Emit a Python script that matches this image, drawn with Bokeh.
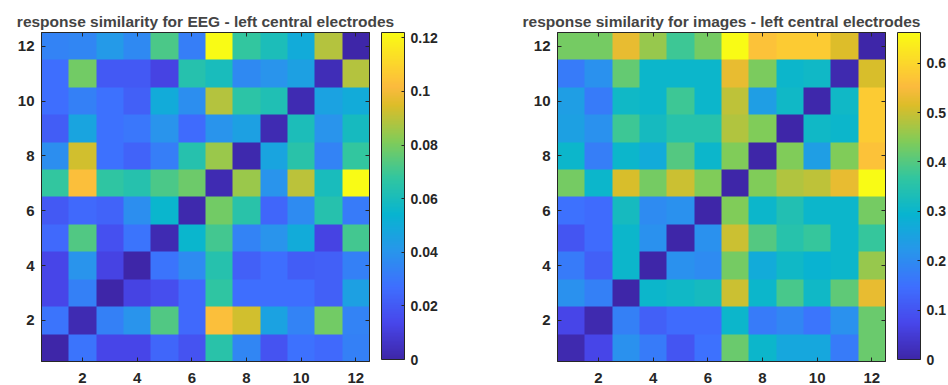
import numpy as np
from bokeh.plotting import figure
from bokeh.layouts import row
from bokeh.models import LinearColorMapper, FixedTicker, Range1d, ColorBar, LinearAxis
from bokeh.embed import file_html
from bokeh.resources import INLINE

# ---- data (rows listed from y=12 at the top down to y=1) ----
electrodes = list(range(1, 13))
eeg_title = "response similarity for EEG - left central electrodes"
img_title = "response similarity for images - left central electrodes"

eeg_rows = [
    [0.034, 0.035, 0.042, 0.036, 0.072, 0.032, 0.122, 0.068, 0.061, 0.050, 0.089, 0.000],
    [0.027, 0.079, 0.020, 0.020, 0.012, 0.064, 0.060, 0.036, 0.040, 0.045, 0.003, 0.089],
    [0.027, 0.033, 0.028, 0.022, 0.050, 0.038, 0.089, 0.066, 0.062, 0.002, 0.046, 0.050],
    [0.021, 0.047, 0.028, 0.030, 0.040, 0.026, 0.040, 0.045, 0.002, 0.061, 0.040, 0.059],
    [0.038, 0.093, 0.028, 0.023, 0.032, 0.064, 0.085, 0.001, 0.047, 0.065, 0.034, 0.068],
    [0.068, 0.103, 0.067, 0.064, 0.072, 0.078, 0.002, 0.085, 0.040, 0.090, 0.060, 0.122],
    [0.020, 0.025, 0.023, 0.038, 0.055, 0.001, 0.079, 0.065, 0.024, 0.037, 0.064, 0.031],
    [0.025, 0.073, 0.017, 0.029, 0.002, 0.055, 0.071, 0.034, 0.040, 0.050, 0.012, 0.071],
    [0.013, 0.040, 0.012, 0.000, 0.029, 0.037, 0.064, 0.022, 0.027, 0.021, 0.022, 0.033],
    [0.013, 0.033, 0.000, 0.012, 0.016, 0.025, 0.067, 0.027, 0.027, 0.027, 0.022, 0.045],
    [0.029, 0.002, 0.033, 0.040, 0.073, 0.025, 0.103, 0.093, 0.046, 0.034, 0.079, 0.034],
    [0.000, 0.029, 0.013, 0.013, 0.024, 0.018, 0.065, 0.035, 0.018, 0.028, 0.025, 0.033],
]

img_rows = [
    [0.43, 0.43, 0.53, 0.46, 0.38, 0.43, 0.66, 0.565, 0.58, 0.58, 0.515, 0.00],
    [0.17, 0.21, 0.415, 0.30, 0.30, 0.30, 0.53, 0.435, 0.30, 0.31, 0.01, 0.51],
    [0.24, 0.17, 0.31, 0.30, 0.38, 0.30, 0.49, 0.24, 0.31, 0.005, 0.31, 0.58],
    [0.245, 0.21, 0.38, 0.32, 0.35, 0.35, 0.48, 0.44, 0.00, 0.31, 0.30, 0.58],
    [0.30, 0.175, 0.30, 0.27, 0.40, 0.30, 0.44, 0.00, 0.44, 0.24, 0.44, 0.565],
    [0.43, 0.30, 0.51, 0.43, 0.50, 0.44, 0.00, 0.44, 0.48, 0.49, 0.53, 0.66],
    [0.15, 0.14, 0.32, 0.20, 0.21, 0.00, 0.44, 0.30, 0.34, 0.30, 0.30, 0.43],
    [0.10, 0.14, 0.30, 0.21, 0.00, 0.21, 0.50, 0.40, 0.35, 0.37, 0.30, 0.37],
    [0.17, 0.12, 0.30, 0.00, 0.21, 0.20, 0.43, 0.27, 0.31, 0.29, 0.30, 0.46],
    [0.21, 0.18, 0.00, 0.30, 0.31, 0.32, 0.50, 0.30, 0.39, 0.31, 0.41, 0.53],
    [0.07, 0.01, 0.18, 0.12, 0.14, 0.14, 0.30, 0.17, 0.19, 0.16, 0.21, 0.42],
    [0.01, 0.07, 0.21, 0.17, 0.10, 0.15, 0.42, 0.30, 0.26, 0.26, 0.17, 0.42],
]

axis_ticks = [2, 4, 6, 8, 10, 12]
eeg_cmax = 0.122
img_cmax = 0.662
eeg_cbar_ticks = [0, 0.02, 0.04, 0.06, 0.08, 0.1, 0.12]
eeg_cbar_labels = ["0", "0.02", "0.04", "0.06", "0.08", "0.1", "0.12"]
img_cbar_ticks = [0, 0.1, 0.2, 0.3, 0.4, 0.5, 0.6]
img_cbar_labels = ["0", "0.1", "0.2", "0.3", "0.4", "0.5", "0.6"]

# ---- parula palette ----
anchor_t = [0.0, 0.111, 0.222, 0.333, 0.444, 0.556, 0.667, 0.778, 0.835, 0.889, 1.0]
anchors = np.array([
    [0.2422, 0.1504, 0.6603], [0.2803, 0.2782, 0.9221], [0.2440, 0.4358, 0.9988],
    [0.1540, 0.5902, 0.9218], [0.0297, 0.7082, 0.8163], [0.1938, 0.7758, 0.6251],
    [0.5044, 0.7993, 0.3480], [0.8634, 0.7406, 0.1596], [0.9850, 0.7300, 0.2450],
    [0.9892, 0.8136, 0.1885], [0.9769, 0.9839, 0.0805]])
tt = np.linspace(0, 1, 256)
parula = []
for t in tt:
    c = [np.interp(t, anchor_t, anchors[:, k]) for k in range(3)]
    parula.append("#%02x%02x%02x" % tuple(int(round(v * 255)) for v in c))

FONT = "Liberation Sans"
DARK = "#262626"


def style_axis(ax, standoff, labels=True):
    ax.ticker = FixedTicker(ticks=axis_ticks)
    ax.major_tick_in = 4
    ax.major_tick_out = 0
    ax.minor_tick_line_color = None
    ax.axis_line_color = DARK
    ax.major_tick_line_color = DARK
    ax.major_label_text_font = FONT
    ax.major_label_text_font_style = "bold"
    ax.major_label_text_font_size = "15px" if labels else "0px"
    ax.major_label_text_color = DARK if labels else None
    ax.major_label_standoff = standoff


def heat(rows, title, cmax, left, ticks, labels):
    data = np.flipud(np.array(rows))
    mapper = LinearColorMapper(palette=parula, low=0, high=cmax)
    p = figure(width=474, height=385, min_border_left=left,
               min_border_right=474 - left - 328, min_border_top=32, min_border_bottom=24,
               frame_width=328, frame_height=329,
               x_range=Range1d(0.5, 12.5), y_range=Range1d(0.5, 12.5),
               output_backend="svg", toolbar_location=None, title=title)
    p.image(image=[data], x=0.5, y=0.5, dw=12, dh=12, color_mapper=mapper)
    p.grid.grid_line_color = None
    p.outline_line_color = DARK
    p.outline_line_width = 1
    p.title.text_font = FONT
    p.title.text_font_size = "15.5px"
    p.title.text_font_style = "bold"
    p.title.align = "center"
    p.title.standoff = 6
    style_axis(p.xaxis[0], 11)
    style_axis(p.yaxis[0], 7)
    top = LinearAxis()
    style_axis(top, 0, labels=False)
    p.add_layout(top, "above")
    rt = LinearAxis()
    style_axis(rt, 0, labels=False)
    p.add_layout(rt, "right")
    cb = ColorBar(color_mapper=mapper, location=(12, 2), width=23, height=327,
                  margin=0, padding=0,
                  ticker=FixedTicker(ticks=ticks),
                  major_label_overrides={t: l for t, l in zip(ticks, labels)},
                  major_tick_in=3, major_tick_out=0, major_tick_line_color=DARK,
                  bar_line_color=DARK, label_standoff=6,
                  major_label_text_font=FONT, major_label_text_font_style="bold",
                  major_label_text_font_size="14px", major_label_text_color=DARK,
                  background_fill_alpha=0)
    p.add_layout(cb, "right")
    return p


p1 = heat(eeg_rows, eeg_title, eeg_cmax, 41, eeg_cbar_ticks, eeg_cbar_labels)
p2 = heat(img_rows, img_title, img_cmax, 83, img_cbar_ticks, img_cbar_labels)

layout = row(p1, p2)
open("out.html", "w").write(file_html(layout, INLINE))
